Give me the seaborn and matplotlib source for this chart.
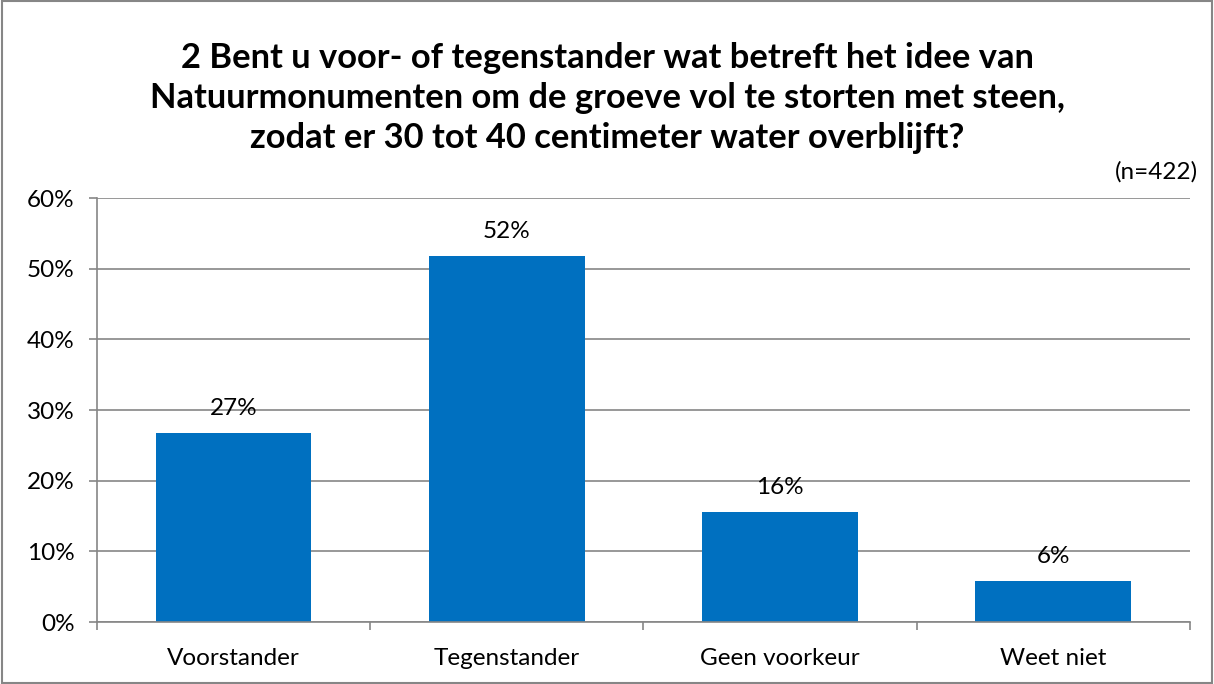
import matplotlib
matplotlib.use("Agg")
import matplotlib.pyplot as plt
import seaborn as sns
import pandas as pd
from matplotlib.ticker import FixedLocator, PercentFormatter

categories = ["Voorstander", "Tegenstander", "Geen voorkeur", "Weet niet"]
values = [26.7, 51.8, 15.6, 5.8]
labels = ["27%", "52%", "16%", "6%"]
yticks = [0, 10, 20, 30, 40, 50, 60]

sns.set_theme(style="white")
plt.rcParams['font.family'] = ['Lato', 'DejaVu Sans']

df = pd.DataFrame({"cat": categories, "val": values})

fig = plt.figure(figsize=(12.14, 6.84), dpi=100)
ax = fig.add_axes([0.0799, 0.0906, 0.9003, 0.6199])

sns.barplot(data=df, x="cat", y="val", color="#0070C0", saturation=1,
            width=0.57, ax=ax, edgecolor="none")

grid_c = "#868686"
ax.set_ylim(0, 60)
ax.set_xlim(-0.5, 3.5)
ax.set_yticks(yticks)
ax.yaxis.set_major_formatter(PercentFormatter(decimals=0))
ax.yaxis.grid(True, color=grid_c, linewidth=1.2)
ax.set_axisbelow(True)
for s in ["top", "right"]:
    ax.spines[s].set_visible(False)
for s in ["left", "bottom"]:
    ax.spines[s].set_color(grid_c)
    ax.spines[s].set_linewidth(1.2)

ax.tick_params(axis="y", which="major", left=True, length=6, color=grid_c,
               width=1.2, labelsize=17.5, pad=10, labelcolor="black")
ax.tick_params(axis="x", which="major", bottom=False, labelsize=17.5, pad=13,
               labelcolor="black")
ax.xaxis.set_minor_locator(FixedLocator([-0.5, 0.5, 1.5, 2.5, 3.5]))
ax.tick_params(axis="x", which="minor", bottom=True, length=6, color=grid_c, width=1.2)
ax.set_xlabel("")
ax.set_ylabel("")

for i, (v, lab) in enumerate(zip(values, labels)):
    ax.annotate(lab, (i, v), xytext=(0, 10), textcoords="offset points",
                ha="center", va="bottom", fontsize=17.5, color="black")

fig.text(0.5, 0.857,
         "2 Bent u voor- of tegenstander wat betreft het idee van\n"
         "Natuurmonumenten om de groeve vol te storten met steen,\n"
         "zodat er 30 tot 40 centimeter water overblijft?",
         ha="center", va="center", fontsize=24.8, fontweight="bold",
         linespacing=1.3, color="black")
fig.text(0.987, 0.749, "(n=422)", ha="right", va="center", fontsize=17.5, color="black")

border = plt.Rectangle((0.002, 0.002), 0.996, 0.996, transform=fig.transFigure,
                       fill=False, edgecolor=grid_c, linewidth=1.5)
fig.patches.append(border)

fig.savefig("out.png", dpi=100, facecolor="white")
